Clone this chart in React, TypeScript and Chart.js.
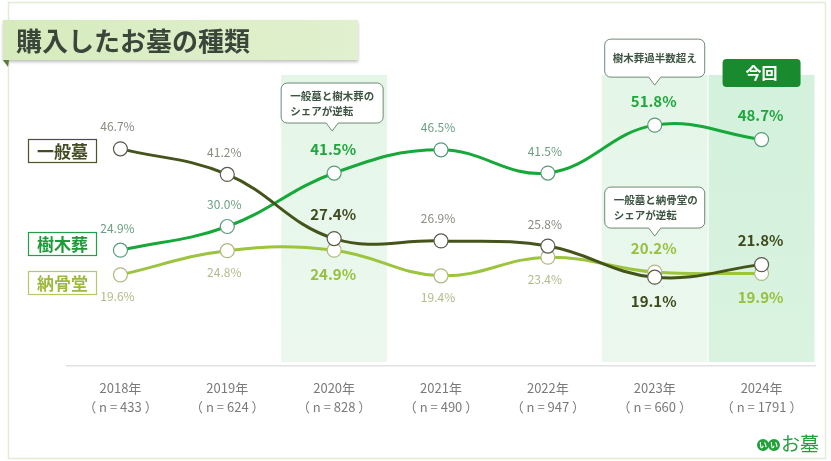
import React, { useEffect, useRef } from "react";
import { Chart, registerables } from "chart.js";

Chart.register(...registerables);

const years = ["2018年", "2019年", "2020年", "2021年", "2022年", "2023年", "2024年"];
const sampleSizes = ["433", "624", "828", "490", "947", "660", "1791"];
const ippanbo = [46.7, 41.2, 27.4, 26.9, 25.8, 19.1, 21.8];
const jumokuso = [24.9, 30.0, 41.5, 46.5, 41.5, 51.8, 48.7];
const nokotsudo = [19.6, 24.8, 24.9, 19.4, 23.4, 20.2, 19.9];
const seriesNames = ["一般墓", "樹木葬", "納骨堂"];
const highlightIdx = [2, 5, 6];
const currentIdx = 6;
const titleText = "購入したお墓の種類";
const callout1 = ["一般墓と樹木葬の", "シェアが逆転"];
const callout2 = ["樹木葬過半数超え"];
const callout3 = ["一般墓と納骨堂の", "シェアが逆転"];

const FONT = '"Noto Sans CJK JP", "Noto Sans", sans-serif';
const LINE_COLORS = ["#45541a", "#17a83a", "#9cc43c"];
const POINT_BORDERS = ["#5a5a50", "#5a9a7a", "#b0b880"];
const BIG_LABEL = ["#3f4a1c", "#1fa63c", "#98c040"];
const SMALL_LABEL = ["#8a8a80", "#6a9e82", "#b2ba88"];
// label below the point?
const belowFlags = [
  [false, false, false, false, false, true, false],
  [false, false, false, false, false, false, false],
  [true, true, true, true, true, false, true],
];

function bubble(ctx: CanvasRenderingContext2D, cx: number, tipY: number, w: number, h: number, lines: string[], align: "left" | "center") {
  const x = cx - w / 2;
  const y = tipY - 8 - h;
  const r = 6;
  ctx.save();
  ctx.beginPath();
  ctx.moveTo(x + r, y);
  ctx.lineTo(x + w - r, y);
  ctx.arcTo(x + w, y, x + w, y + r, r);
  ctx.lineTo(x + w, y + h - r);
  ctx.arcTo(x + w, y + h, x + w - r, y + h, r);
  ctx.lineTo(cx + 6, y + h);
  ctx.lineTo(cx, tipY);
  ctx.lineTo(cx - 6, y + h);
  ctx.lineTo(x + r, y + h);
  ctx.arcTo(x, y + h, x, y + h - r, r);
  ctx.lineTo(x, y + r);
  ctx.arcTo(x, y, x + r, y, r);
  ctx.closePath();
  ctx.fillStyle = "#ffffff";
  ctx.fill();
  ctx.strokeStyle = "#6f8a74";
  ctx.lineWidth = 1;
  ctx.stroke();
  ctx.fillStyle = "#3d5442";
  ctx.font = `bold 10.5px ${FONT}`;
  ctx.textBaseline = "middle";
  const lh = 15;
  const startY = y + h / 2 - ((lines.length - 1) * lh) / 2;
  lines.forEach((t, i) => {
    if (align === "left") {
      ctx.textAlign = "left";
      ctx.fillText(t, x + 9, startY + i * lh);
    } else {
      ctx.textAlign = "center";
      ctx.fillText(t, cx, startY + i * lh);
    }
  });
  ctx.restore();
}

const overlayPlugin = {
  id: "overlay",
  beforeDraw(chart: any) {
    const ctx: CanvasRenderingContext2D = chart.ctx;
    const W = chart.width;
    const H = chart.height;
    ctx.save();
    ctx.fillStyle = "#ffffff";
    ctx.fillRect(0, 0, W, H);
    ctx.strokeStyle = "#e3ebd9";
    ctx.lineWidth = 1.5;
    ctx.strokeRect(8.5, 2.5, W - 14, H - 5);
    // title banner
    ctx.save();
    ctx.shadowColor = "rgba(0,0,0,0.25)";
    ctx.shadowOffsetY = 2;
    ctx.shadowBlur = 3;
    const g = ctx.createLinearGradient(3, 0, 358, 0);
    g.addColorStop(0, "#d6ebbd");
    g.addColorStop(1, "#e1f0cf");
    ctx.fillStyle = g;
    ctx.fillRect(3, 20, 355, 40);
    ctx.restore();
    ctx.fillStyle = "#5e7a3a";
    ctx.beginPath();
    ctx.moveTo(3, 60);
    ctx.lineTo(9, 60);
    ctx.lineTo(8, 67);
    ctx.closePath();
    ctx.fill();
    ctx.fillStyle = "#3a463a";
    ctx.font = `bold 26px ${FONT}`;
    ctx.textAlign = "left";
    ctx.textBaseline = "middle";
    ctx.fillText(titleText, 16, 41);
    ctx.restore();
  },
  beforeDatasetsDraw(chart: any) {
    const ctx: CanvasRenderingContext2D = chart.ctx;
    const xs = chart.scales.x;
    const ys = chart.scales.y;
    const area = chart.chartArea;
    const step = xs.getPixelForValue(1) - xs.getPixelForValue(0);
    const top = ys.getPixelForValue(62.6);
    ctx.save();
    highlightIdx.forEach((i) => {
      const cx = xs.getPixelForValue(i);
      const g = ctx.createLinearGradient(0, top, 0, area.bottom);
      if (i === currentIdx) {
        g.addColorStop(0, "#d3f1dc");
        g.addColorStop(1, "#d9f3e0");
      } else {
        g.addColorStop(0, "#e4f6e8");
        g.addColorStop(1, "#ecf8ee");
      }
      ctx.fillStyle = g;
      ctx.fillRect(cx - step / 2 + 0.5, top, step - 1, area.bottom - 4 - top);
    });
    ctx.restore();
  },
  afterDatasetsDraw(chart: any) {
    const ctx: CanvasRenderingContext2D = chart.ctx;
    const xs = chart.scales.x;
    ctx.save();
    // data labels
    chart.data.datasets.forEach((ds: any, si: number) => {
      const meta = chart.getDatasetMeta(si);
      meta.data.forEach((pt: any, i: number) => {
        const big = highlightIdx.includes(i);
        const below = belowFlags[si][i];
        const off = big ? 24 : 22;
        ctx.font = big ? `bold 15px ${FONT}` : `12px ${FONT}`;
        ctx.fillStyle = big ? BIG_LABEL[si] : SMALL_LABEL[si];
        ctx.textAlign = "center";
        ctx.textBaseline = "middle";
        const v = ds.data[i].toFixed(1) + "%";
        ctx.fillText(v, pt.x - (big ? 1 : 3), pt.y + (below ? off : -off));
      });
    });
    // callouts
    const m1 = chart.getDatasetMeta(1);
    const m2 = chart.getDatasetMeta(2);
    bubble(ctx, m1.data[2].x - 2, m1.data[2].y - 42, 102, 40, callout1, "left");
    bubble(ctx, m1.data[5].x, m1.data[5].y - 40, 100, 38, callout2, "center");
    bubble(ctx, m2.data[5].x, m2.data[5].y - 36, 100, 41, callout3, "left");
    // 今回 badge
    const cx = xs.getPixelForValue(currentIdx);
    ctx.fillStyle = "#1a8a2e";
    ctx.beginPath();
    (ctx as any).roundRect(cx - 39, 59, 78, 28, 4);
    ctx.fill();
    ctx.fillStyle = "#ffffff";
    ctx.font = `bold 16px ${FONT}`;
    ctx.textAlign = "center";
    ctx.textBaseline = "middle";
    ctx.fillText("今回", cx, 73);
    // series name boxes
    const boxYs = [139, 232, 271];
    const boxBorder = ["#4a5428", "#22a043", "#b2c968"];
    const boxText = ["#434c22", "#1e9a3a", "#9dba3e"];
    seriesNames.forEach((n, i) => {
      ctx.fillStyle = "#ffffff";
      ctx.fillRect(28.5, boxYs[i] + 0.5, 68, 23);
      ctx.strokeStyle = boxBorder[i];
      ctx.lineWidth = 1.2;
      ctx.strokeRect(28.5, boxYs[i] + 0.5, 68, 23);
      ctx.fillStyle = boxText[i];
      ctx.font = `bold 17px ${FONT}`;
      ctx.textAlign = "center";
      ctx.textBaseline = "middle";
      ctx.fillText(n, 62.5, boxYs[i] + 12.5);
    });
    // logo
    ctx.fillStyle = "#22a03c";
    ctx.beginPath();
    ctx.arc(763, 445, 6, 0, Math.PI * 2);
    ctx.arc(774, 445, 6, 0, Math.PI * 2);
    ctx.fill();
    ctx.fillStyle = "#ffffff";
    ctx.font = `bold 8px ${FONT}`;
    ctx.fillText("い", 763, 445);
    ctx.fillText("い", 774, 445);
    ctx.fillStyle = "#22a03c";
    ctx.font = `19px ${FONT}`;
    ctx.textAlign = "left";
    ctx.fillText("お墓", 781, 444);
    ctx.restore();
  },
};

export default function App() {
  const ref = useRef<HTMLCanvasElement | null>(null);
  useEffect(() => {
    if (!ref.current) return;
    const series = [ippanbo, jumokuso, nokotsudo];
    const chart = new Chart(ref.current, {
      type: "line",
      data: {
        labels: years.map((y, i) => [y, `（ n = ${sampleSizes[i]} ）`]),
        datasets: series.map((d, i) => ({
          label: seriesNames[i],
          data: d,
          borderColor: LINE_COLORS[i],
          borderWidth: 3,
          tension: 0.4,
          pointRadius: 7,
          pointBackgroundColor: "#ffffff",
          pointBorderColor: POINT_BORDERS[i],
          pointBorderWidth: 1.2,
          fill: false,
        })),
      },
      options: {
        responsive: false,
        animation: false,
        layout: { padding: { left: 67, right: 16, top: 87, bottom: 32 } },
        plugins: { legend: { display: false }, tooltip: { enabled: false } },
        scales: {
          x: {
            offset: true,
            grid: { display: false, drawTicks: false },
            border: { display: true, color: "#e2e2e2", width: 1.5 },
            ticks: {
              color: "#7a7a7a",
              font: { size: 13, family: FONT, lineHeight: 1.5 },
              padding: 12,
              maxRotation: 0,
              autoSkip: false,
            },
          },
          y: { display: false, min: 0, max: 60 },
        },
      },
      plugins: [overlayPlugin],
    });
    return () => chart.destroy();
  }, []);
  return (
    <div style={{ position: "absolute", left: 0, top: 0, width: 831, height: 461 }}>
      <canvas ref={ref} width={831} height={461} style={{ width: 831, height: 461, display: "block" }} />
    </div>
  );
}
